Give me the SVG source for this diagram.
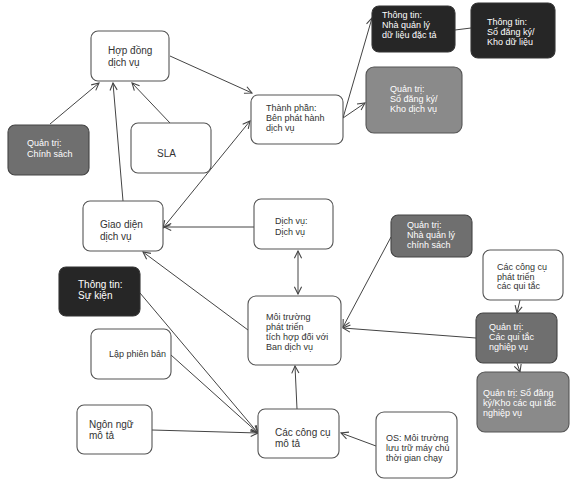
<svg xmlns="http://www.w3.org/2000/svg" width="576" height="485" viewBox="0 0 576 485">
<defs>
<marker id="ah" viewBox="0 0 10 10" refX="9" refY="5" markerWidth="9" markerHeight="9" markerUnits="userSpaceOnUse" orient="auto-start-reverse">
<path d="M1,1 L9,5 L1,9" fill="none" stroke="#444" stroke-width="1.2"/>
</marker>
</defs>
<style>
.n{fill:#fff;stroke:#555;stroke-width:1.1}
.k{fill:#262626;stroke:#333;stroke-width:1.1}
.g{fill:#8a8a8a;stroke:#555;stroke-width:1.1}
.g2{fill:#6f6f6f;stroke:#444;stroke-width:1.1}
text{font-family:"Liberation Sans",Arial,sans-serif;font-size:9px;fill:#333}
.w{fill:#fff}
.b{font-size:10px}
.c line,.c path{stroke:#444;stroke-width:1;fill:none}
.a{marker-end:url(#ah)}
.d{marker-start:url(#ah);marker-end:url(#ah)}
</style>
<rect width="576" height="485" fill="#fff"/>
<g class="c" id="connectors">
<line class="a" x1="170" y1="56" x2="252" y2="93"/>
<line class="a" x1="50" y1="124" x2="99" y2="83"/>
<line class="a" x1="170" y1="123" x2="132" y2="83"/>
<line class="a" x1="123" y1="201" x2="113" y2="83"/>
<line class="d" x1="250" y1="121" x2="163" y2="228"/>
<line class="a" x1="254" y1="227" x2="164" y2="227"/>
<line class="a" x1="343" y1="118" x2="372" y2="18"/>
<line class="a" x1="343" y1="118" x2="365" y2="103"/>
<line x1="455" y1="30" x2="471" y2="28"/>
<line class="d" x1="298" y1="251" x2="298" y2="294"/>
<line class="a" x1="391" y1="237" x2="343" y2="327"/>
<line class="a" x1="476" y1="338" x2="343" y2="328"/>
<line class="a" x1="520" y1="300" x2="517" y2="313"/>
<line class="a" x1="517" y1="363" x2="520" y2="372"/>
<line class="a" x1="297" y1="409" x2="295" y2="366"/>
<line class="a" x1="376" y1="446" x2="341" y2="433"/>
<line class="a" x1="248" y1="330" x2="143" y2="252"/>
<line class="a" x1="140" y1="293" x2="258" y2="433"/>
<line class="a" x1="171" y1="355" x2="258" y2="433"/>
<line class="a" x1="152" y1="430" x2="258" y2="433"/>
</g>
<g id="hop-dong"><rect class="n" x="91" y="31" width="78" height="50" rx="7"/><text class="b" x="108" y="54">Hợp đồng</text><text class="b" x="108" y="66">dịch vụ</text></g>
<g id="qt-chinh-sach"><rect class="g2" x="8" y="125" width="81" height="50" rx="7"/><text class="w" x="27" y="146">Quản trị:</text><text class="w" x="27" y="157">Chính sách</text></g>
<g id="sla"><rect class="n" x="131" y="123" width="80" height="50" rx="7"/><text class="b" x="157" y="157">SLA</text></g>
<g id="giao-dien"><rect class="n" x="83" y="201" width="80" height="50" rx="7"/><text class="b" x="100" y="228">Giao diện</text><text class="b" x="100" y="240">dịch vụ</text></g>
<g id="thanh-phan"><rect class="n" x="251" y="95" width="92" height="49" rx="7"/><text x="266" y="111">Thành phần:</text><text x="266" y="121">Bên phát hành</text><text x="266" y="131">dịch vụ</text></g>
<g id="tt-nha-quan-ly"><rect class="k" x="372" y="6" width="83" height="46" rx="7"/><text class="w" x="382" y="18">Thông tin:</text><text class="w" x="382" y="28">Nhà quản lý</text><text class="w" x="382" y="38">dữ liệu đặc tả</text></g>
<g id="tt-so-dang-ky"><rect class="k" x="471" y="3" width="84" height="55" rx="7"/><text class="w" x="487" y="25">Thông tin:</text><text class="w" x="487" y="35">Sổ đăng ký/</text><text class="w" x="487" y="45">Kho dữ liệu</text></g>
<g id="qt-kho-dich-vu"><rect class="g" x="366" y="67" width="96" height="66" rx="8"/><text class="w" x="390" y="92">Quản trị:</text><text class="w" x="390" y="102">Sổ đăng ký/</text><text class="w" x="390" y="112">Kho dịch vụ</text></g>
<g id="dich-vu"><rect class="n" x="254" y="199" width="79" height="50" rx="7"/><text x="275" y="224">Dịch vụ:</text><text x="275" y="235">Dịch vụ</text></g>
<g id="qt-nha-quan-ly-cs"><rect class="g2" x="391" y="215" width="81" height="42" rx="7"/><text class="w" x="407" y="228">Quản trị:</text><text class="w" x="407" y="238">Nhà quản lý</text><text class="w" x="407" y="248">chính sách</text></g>
<g id="cong-cu-qui-tac"><rect class="n" x="483" y="250" width="80" height="50" rx="7"/><text x="497" y="270">Các công cụ</text><text x="497" y="280">phát triển</text><text x="497" y="289">các qui tắc</text></g>
<g id="qt-qui-tac"><rect class="g2" x="476" y="313" width="81" height="50" rx="7"/><text class="w" x="489" y="330">Quản trị:</text><text class="w" x="489" y="340">Các qui tắc</text><text class="w" x="489" y="350">nghiệp vụ</text></g>
<g id="qt-kho-qui-tac"><rect class="g" x="477" y="372" width="92" height="60" rx="8"/><text class="w" x="483" y="396">Quản trị: Sổ đăng</text><text class="w" x="483" y="406">ký/Kho các qui tắc</text><text class="w" x="483" y="416">nghiệp vụ</text></g>
<g id="moi-truong"><rect class="n" x="248" y="296" width="93" height="69" rx="8"/><text x="266" y="320">Môi trường</text><text x="266" y="330">phát triển</text><text x="266" y="340">tích hợp đối với</text><text x="266" y="350">Ban dịch vụ</text></g>
<g id="tt-su-kien"><rect class="k" x="59" y="267" width="81" height="49" rx="7"/><text class="w b" x="78" y="288">Thông tin:</text><text class="w b" x="78" y="299">Sự kiện</text></g>
<g id="lap-phien-ban"><rect class="n" x="91" y="329" width="80" height="50" rx="7"/><text x="109" y="357">Lập phiên bản</text></g>
<g id="ngon-ngu"><rect class="n" x="77" y="405" width="75" height="49" rx="7"/><text class="b" x="89" y="428">Ngôn ngữ</text><text class="b" x="89" y="439">mô tả</text></g>
<g id="cong-cu-mo-ta"><rect class="n" x="258" y="409" width="81" height="49" rx="7"/><text class="b" x="275" y="436">Các công cụ</text><text class="b" x="275" y="447">mô tả</text></g>
<g id="os"><rect class="n" x="376" y="412" width="81" height="66" rx="8"/><text x="386" y="441">OS: Môi trường</text><text x="386" y="451">lưu trữ máy chủ</text><text x="386" y="461">thời gian chạy</text></g>
</svg>
